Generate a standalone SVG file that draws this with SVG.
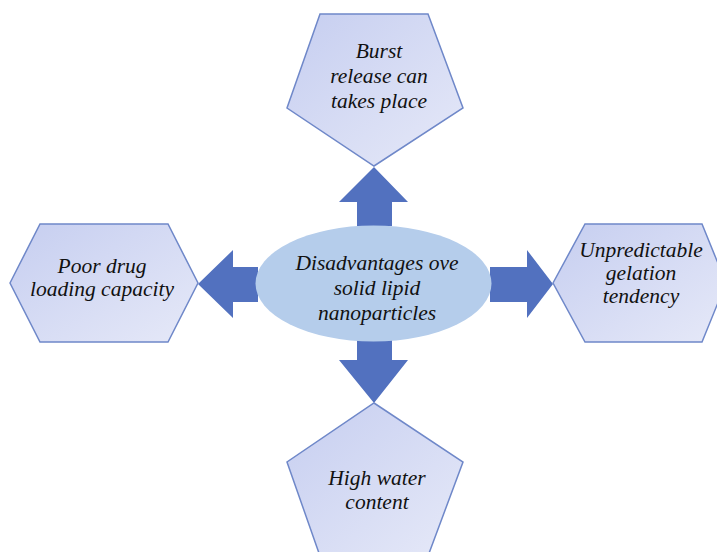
<svg xmlns="http://www.w3.org/2000/svg" width="717" height="552" viewBox="0 0 717 552">
<defs>
<linearGradient id="g" x1="0" y1="0" x2="1" y2="1">
<stop offset="0" stop-color="#c6cef0"/>
<stop offset="1" stop-color="#e6e9f8"/>
</linearGradient>
</defs>
<style>
.shape{fill:url(#g);stroke:#6f88c9;stroke-width:1.5}
.arrow{fill:#5271bf}
.t{font-family:"Liberation Serif","Times New Roman",serif;font-style:italic;font-size:21.5px;fill:#111;text-anchor:middle}
</style>
<rect width="717" height="552" fill="#ffffff"/>
<g id="connectors">
<polygon class="arrow" points="357,226 357,202 339,202 374,167 408,202 392,202 392,226"/>
<polygon class="arrow" points="357,340 357,360 339,360 374,403 408,360 392,360 392,340"/>
<polygon class="arrow" points="490,267 527,267 527,250 553,284 527,318 527,302 490,302"/>
<polygon class="arrow" points="258,267 233,267 233,250 198,284 233,318 233,302 258,302"/>
</g>
<g id="center">
<ellipse cx="373.5" cy="283.5" rx="118" ry="58" fill="#b5cdeb"/>
<text class="t" x="377" y="270">Disadvantages ove</text>
<text class="t" x="377" y="295">solid lipid</text>
<text class="t" x="377" y="320">nanoparticles</text>
</g>
<g id="top">
<polygon class="shape" points="320,14 428,14 463,108 374,166 287,108"/>
<text class="t" x="379" y="58">Burst</text>
<text class="t" x="379" y="83">release can</text>
<text class="t" x="379" y="108">takes place</text>
</g>
<g id="bottom">
<polygon class="shape" points="374,403 463,462 428,556 320,556 287,462"/>
<text class="t" x="377" y="485">High water</text>
<text class="t" x="377" y="509">content</text>
</g>
<g id="left">
<polygon class="shape" points="10,283 40,224 168,224 198,283 168,342 40,342"/>
<text class="t" x="102" y="273">Poor drug</text>
<text class="t" x="102" y="296">loading capacity</text>
</g>
<g id="right">
<polygon class="shape" points="553,283 585,224 702,224 726,283 702,342 585,342"/>
<text class="t" x="641" y="257">Unpredictable</text>
<text class="t" x="641" y="280">gelation</text>
<text class="t" x="641" y="303">tendency</text>
</g>
</svg>
